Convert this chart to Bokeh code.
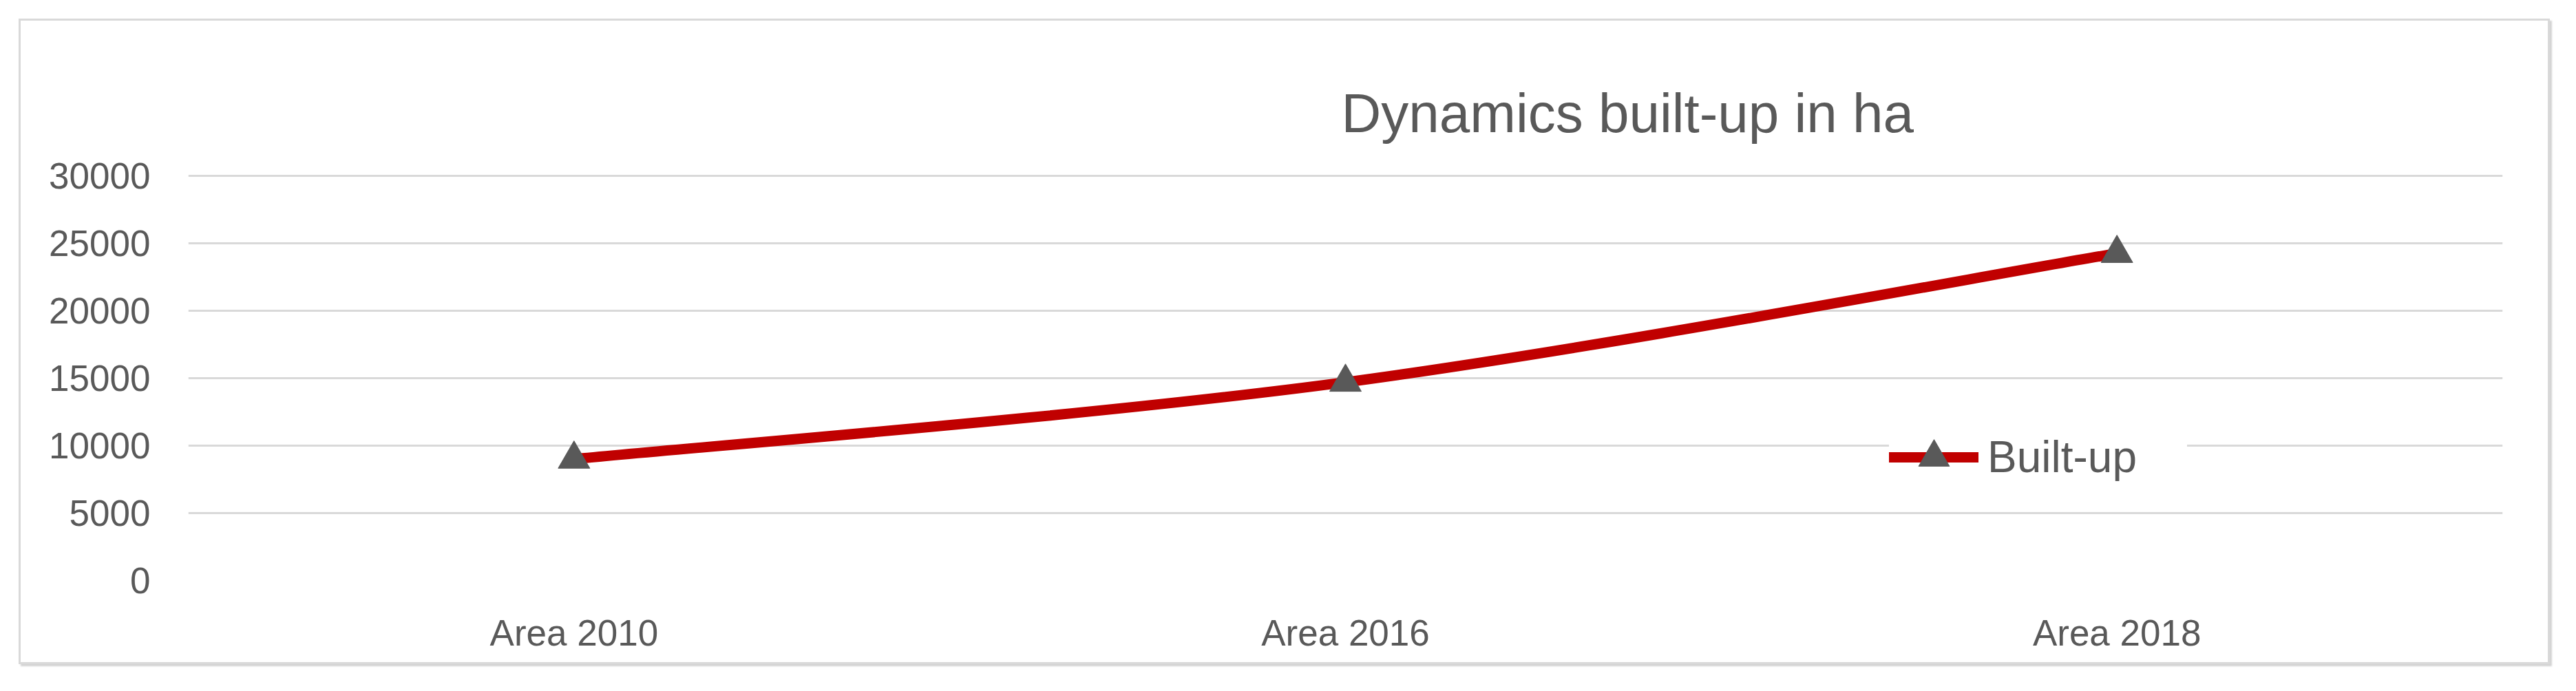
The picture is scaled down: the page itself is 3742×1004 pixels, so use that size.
from bokeh.plotting import figure
from bokeh.models import Range1d, FactorRange, FixedTicker, Legend, LegendItem
from bokeh.embed import file_html
from bokeh.resources import INLINE

# ---- data ----
categories = ["Area 2010", "Area 2016", "Area 2018"]
built_up = [9000, 14700, 24250]
y_ticks = [0, 5000, 10000, 15000, 20000, 25000, 30000]
title_text = "Dynamics built-up in ha"
series_name = "Built-up"

FONT = "Liberation Sans"
TEXT = "#595959"
LINE = "#C00000"
MARK = "#595959"
GRID = "#d9d9d9"

p = figure(
    width=3677, height=938,
    x_range=FactorRange(factors=categories, range_padding=0),
    y_range=Range1d(0, 30100),
    output_backend="svg", toolbar_location=None,
    min_border_left=243, min_border_right=72,
    min_border_top=223, min_border_bottom=125,
    margin=(27, 0, 0, 27),
)
p.styles = {"border": "3px solid #d9d9d9", "box-shadow": "3px 3px 2px #d4d4d4"}
p.background_fill_color = "white"
p.border_fill_color = "white"
p.outline_line_color = None

# title
p.title.text = title_text
p.title.text_font = FONT
p.title.text_font_size = "80px"
p.title.text_font_style = "normal"
p.title.text_color = TEXT
p.title.align = "left"
p.title.offset = 1675
p.title.standoff = 89

# smoothed line (Excel-style) built from the data through bezier segments
n = len(built_up)
xs = [i + 0.5 for i in range(n)]
x0, y0, x1, y1, cx0, cy0, cx1, cy1 = [], [], [], [], [], [], [], []
for i in range(n - 1):
    prv = max(i - 1, 0)
    nxt = min(i + 2, n - 1)
    x0.append(xs[i]); y0.append(built_up[i])
    x1.append(xs[i + 1]); y1.append(built_up[i + 1])
    cx0.append(xs[i] + (xs[i + 1] - xs[prv]) / 6)
    cy0.append(built_up[i] + (built_up[i + 1] - built_up[prv]) / 6)
    cx1.append(xs[i + 1] - (xs[nxt] - xs[i]) / 6)
    cy1.append(built_up[i + 1] - (built_up[nxt] - built_up[i]) / 6)

bez = p.bezier(x0=x0, y0=y0, x1=x1, y1=y1, cx0=cx0, cy0=cy0, cx1=cx1, cy1=cy1,
               line_color=LINE, line_width=15, line_cap="round")
sc = p.scatter(x=categories, y=built_up, marker="triangle", size=46,
               fill_color=MARK, line_color=MARK)

# grid / axes
p.xgrid.visible = False
p.ygrid.grid_line_color = GRID
p.ygrid.grid_line_width = 3

p.yaxis.ticker = FixedTicker(ticks=y_ticks)
for ax in (p.xaxis[0], p.yaxis[0]):
    ax.axis_line_color = None
    ax.major_tick_line_color = None
    ax.minor_tick_line_color = None
    ax.major_label_text_font = FONT
    ax.major_label_text_color = TEXT
    ax.major_label_text_font_size = "53px"
p.yaxis.major_label_standoff = 49
p.xaxis.major_label_standoff = 40

legend = Legend(
    items=[LegendItem(label=series_name, renderers=[bez, sc])],
    location=(2471, 123),
    padding=12, spacing=0, margin=0,
    glyph_width=130, glyph_height=112, label_height=112,
    label_standoff=13, label_width=290,
    label_text_font=FONT, label_text_font_size="64px", label_text_color=TEXT,
    background_fill_color="white", background_fill_alpha=1.0,
    border_line_color=None,
)
p.add_layout(legend)

open("out.html", "w").write(file_html(p, INLINE))
